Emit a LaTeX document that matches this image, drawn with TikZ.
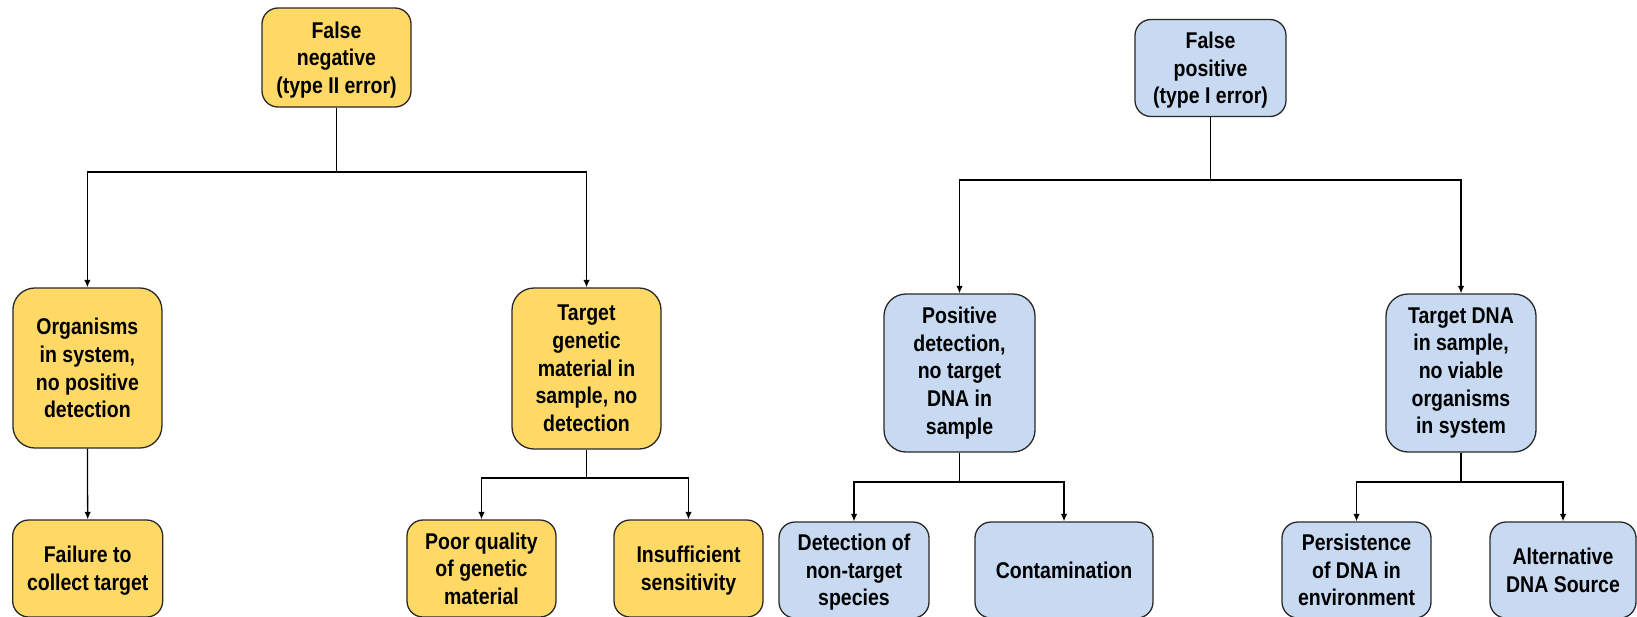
\documentclass[tikz,border=0pt]{standalone}
\usepackage{fontspec}
\setmainfont{Liberation Sans}[FakeStretch=0.855]
\usetikzlibrary{arrows.meta}
\definecolor{fnyellow}{RGB}{255,217,102}
\definecolor{fpblue}{RGB}{199,218,241}
\definecolor{edgegray}{RGB}{40,40,40}
\tikzset{
  box/.style={draw=edgegray, line width=1.3pt, align=center, inner sep=0pt,
    font=\fontsize{22.8}{27.7}\selectfont\bfseries, text=black},
  shortbox/.style={box, rounded corners=16pt, minimum height=97pt, text depth=0pt},
  tallbox/.style={box, rounded corners=22pt},
  yel/.style={fill=fnyellow},
  blu/.style={fill=fpblue},
  conn/.style={draw=black, line width=1.3pt},
  arr/.style={conn, -{Latex[length=7.5pt,width=6.5pt]}}
}
\begin{document}
\begin{tikzpicture}[x=1pt,y=-1pt]
\useasboundingbox (0,0) rectangle (1637,616);
\clip (0,0) rectangle (1637,616);

% top level
\node[shortbox, yel, minimum width=149pt, minimum height=99pt] (FN) at (336.5,57.5) {False\\negative\\(type II error)};
\node[shortbox, blu, minimum width=151pt, minimum height=97pt] (FP) at (1210.5,68) {False\\positive\\(type I error)};

% middle level
\node[tallbox, yel, minimum width=149pt, minimum height=160pt] (Org) at (87.4,368) {Organisms\\in system,\\no positive\\detection};
\node[tallbox, yel, minimum width=149pt, minimum height=161pt] (TGM) at (586.5,368.5) {Target\\genetic\\material in\\sample, no\\detection};
\node[tallbox, blu, minimum width=151pt, minimum height=158pt] (PD) at (959.5,373) {Positive\\detection,\\no target\\DNA in\\sample};
\node[tallbox, blu, minimum width=150pt, minimum height=158pt] (TDNA) at (1461,373) {Target DNA\\in sample,\\no viable\\organisms\\in system};

% bottom level
\node[shortbox, yel, minimum width=150pt] (Fail) at (87.7,568.5) {Failure to\\collect target};
\node[shortbox, yel, minimum width=149pt] (Poor) at (481.5,568.5) {Poor quality\\of genetic\\material};
\node[shortbox, yel, minimum width=149pt] (Insuf) at (688.5,568.5) {Insufficient\\sensitivity};
\node[shortbox, blu, minimum width=150pt, minimum height=96pt] (Det) at (854,570) {Detection of\\non-target\\species};
\node[shortbox, blu, minimum width=178pt, minimum height=96pt] (Cont) at (1064,570) {Contamination};
\node[shortbox, blu, minimum width=149pt, minimum height=96pt] (Pers) at (1356.5,570) {Persistence\\of DNA in\\environment};
\node[shortbox, blu, minimum width=146pt, minimum height=96pt] (Alt) at (1563,570) {Alternative\\DNA Source};

% branch points
\coordinate (jFN) at (336.5,172);
\coordinate (jFP) at (1210.5,180);
\coordinate (jTGM) at (586.5,478);
\coordinate (jPD) at (959.5,482);
\coordinate (jTDNA) at (1461,482);

% connectors
\draw[conn] (FN.south) -- (jFN);
\draw[arr] (jFN) -| (Org.north);
\draw[arr] (jFN) -| (TGM.north);

\draw[conn] (FP.south) -- (jFP);
\draw[arr] (jFP) -| (PD.north);
\draw[arr] (jFP) -| (TDNA.north);

\draw[arr] (Org.south) -- (Fail.north);

\draw[conn] (TGM.south) -- (jTGM);
\draw[arr] (jTGM) -| (Poor.north);
\draw[arr] (jTGM) -| (Insuf.north);

\draw[conn] (PD.south) -- (jPD);
\draw[arr] (jPD) -| (Det.north);
\draw[arr] (jPD) -| (Cont.north);

\draw[conn] (TDNA.south) -- (jTDNA);
\draw[arr] (jTDNA) -| (Pers.north);
\draw[arr] (jTDNA) -| (Alt.north);
\end{tikzpicture}
\end{document}
